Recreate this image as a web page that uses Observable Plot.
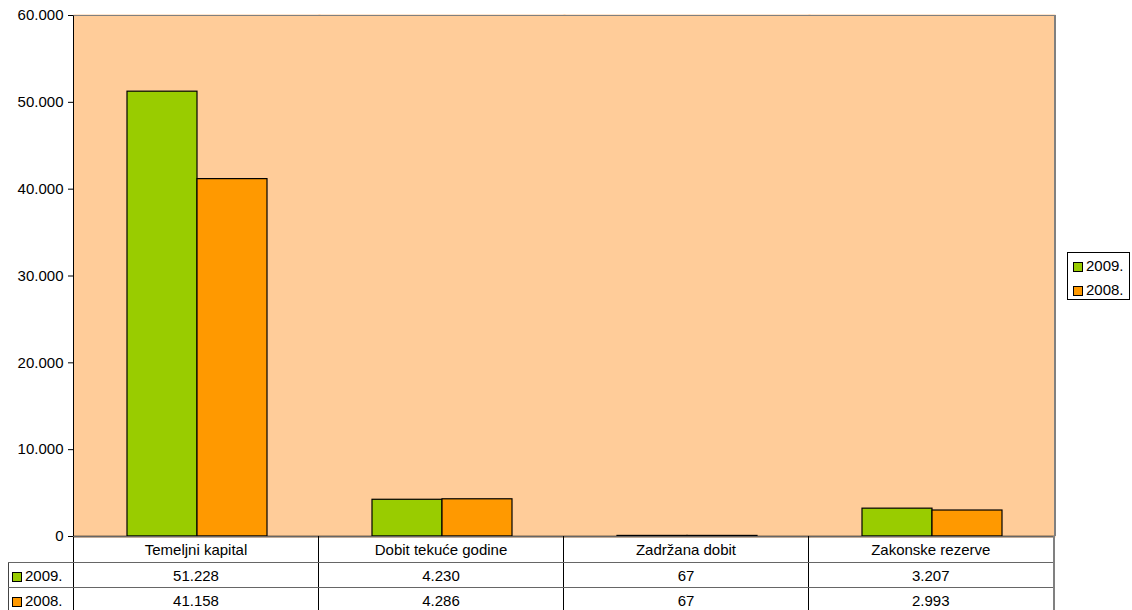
<!DOCTYPE html>
<html>
<head>
<meta charset="utf-8">
<script src="https://cdn.jsdelivr.net/npm/d3@7"></script>
<script src="https://cdn.jsdelivr.net/npm/@observablehq/plot@0.6"></script>
<style>
  html, body { margin: 0; padding: 0; background: #fff; }
  body { font-family: "Liberation Sans", Arial, sans-serif; font-size: 15px; color: #000; }
  #wrap { position: relative; width: 1132px; height: 610px; overflow: hidden; }
  #chart { position: absolute; left: 0; top: 0; }
  #border { position: absolute; box-sizing: border-box; border-top: 1px solid #808080; border-right: 2px solid #808080; border-left: 1px solid #000; pointer-events: none; }
  table.dt { position: absolute; border-collapse: collapse; table-layout: fixed; font-size: 15px; line-height: 17px; }
  table.dt td { border-left: 1px solid #000; border-right: 1px solid #000; border-top: 1px solid #666; border-bottom: 1px solid #666; text-align: center; padding: 0; white-space: nowrap; overflow: hidden; }
  table.dt td.blank { border: none; }
  table.dt td.lab { text-align: left; padding-left: 3px; border-left: 1px solid #444; }
  table.dt td.last { border-right: 2px solid #808080; }
  .sw { display: inline-block; box-sizing: border-box; width: 10px; height: 10px; border: 1px solid #000; margin-right: 3px; vertical-align: -1px; }
  #legend { position: absolute; box-sizing: border-box; border: 1px solid #000; background: #fff; font-size: 15px; padding: 3px 0 0 5px; }
  #legend div { height: 24px; line-height: 20px; white-space: nowrap; }
</style>
</head>
<body>
<div id="wrap">
  <div id="chart"></div>
  <div id="border"></div>
</div>
<script>
const categories = ["Temeljni kapital", "Dobit tekuće godine", "Zadržana dobit", "Zakonske rezerve"];
const series = ["2009.", "2008."];
const values2009 = [51228, 4230, 67, 3207];
const values2008 = [41158, 4286, 67, 2993];
const seriesColors = ["#99CC00", "#FF9900"];
const yTicks = [0, 10000, 20000, 30000, 40000, 50000, 60000];

const seriesValues = [values2009, values2008];
const data = categories.flatMap((c, i) => series.map((s, j) => ({category: c, series: s, value: seriesValues[j][i]})));

const loc = d3.formatLocale({decimal: ",", thousands: ".", grouping: [3], currency: ["", ""]});
const fmt = loc.format(",.0f");

const W = 1132, H = 538, mTop = 15, mBottom = 2, mLeft = 73, mRight = 77;
const bg = "#FFCC99";

const chart = Plot.plot({
  width: W, height: H,
  marginTop: mTop, marginBottom: mBottom, marginLeft: mLeft, marginRight: mRight,
  style: {background: "transparent", fontFamily: "'Liberation Sans', Arial, sans-serif", fontSize: "15px", color: "#000", overflow: "visible"},
  fx: {domain: categories, padding: 0, axis: null, label: null},
  x: {domain: series, paddingInner: 0, paddingOuter: 0.75, axis: null},
  y: {domain: [0, 60000], ticks: yTicks, tickFormat: fmt, label: null, tickSize: 6, tickPadding: 5},
  color: {domain: series, range: seriesColors},
  marks: [
    Plot.frame({fill: bg, stroke: bg, strokeWidth: 2}),
    Plot.barY(data, {fx: "category", x: "series", y: "value", fill: "series", stroke: "#000", strokeWidth: 1.2}),
    Plot.ruleY([0], {stroke: "#000", strokeWidth: 1.5})
  ]
});
document.getElementById("chart").appendChild(chart);

// plot-area border
const b = document.getElementById("border");
b.style.left = mLeft + "px";
b.style.top = mTop + "px";
b.style.width = (W - mLeft - mRight + 1) + "px";
b.style.height = (H - mTop - mBottom) + "px";

// data table under the chart, columns aligned with the fx scale
const fxScale = chart.scale("fx");
const colW = fxScale.bandwidth != null ? fxScale.bandwidth : (W - mLeft - mRight) / categories.length;
const labW = 65;
const table = document.createElement("table");
table.className = "dt";
table.style.left = (mLeft - labW) + "px";
table.style.top = (H - mBottom) + "px";
table.style.width = (labW + colW * categories.length) + "px";
const cg = document.createElement("colgroup");
[labW, ...categories.map(() => colW)].forEach(w => { const c = document.createElement("col"); c.style.width = w + "px"; cg.appendChild(c); });
table.appendChild(cg);
const head = table.insertRow();
head.style.height = "26px";
const blank = head.insertCell(); blank.className = "blank";
categories.forEach((c, i) => { const td = head.insertCell(); td.textContent = c; if (i === categories.length - 1) td.className = "last"; });
series.forEach((s, j) => {
  const tr = table.insertRow();
  tr.style.height = "25px";
  const lab = tr.insertCell(); lab.className = "lab";
  const sw = document.createElement("span"); sw.className = "sw"; sw.style.background = seriesColors[j];
  lab.appendChild(sw); lab.appendChild(document.createTextNode(s));
  seriesValues[j].forEach((v, i) => { const td = tr.insertCell(); td.textContent = fmt(v); if (i === categories.length - 1) td.className = "last"; });
});
document.getElementById("wrap").appendChild(table);

// legend
const lg = document.createElement("div");
lg.id = "legend";
lg.style.left = "1067px"; lg.style.top = "252px"; lg.style.width = "63px"; lg.style.height = "48px";
series.forEach((s, j) => {
  const d = document.createElement("div");
  const sw = document.createElement("span"); sw.className = "sw"; sw.style.background = seriesColors[j];
  d.appendChild(sw); d.appendChild(document.createTextNode(s));
  lg.appendChild(d);
});
document.getElementById("wrap").appendChild(lg);
</script>
</body>
</html>
